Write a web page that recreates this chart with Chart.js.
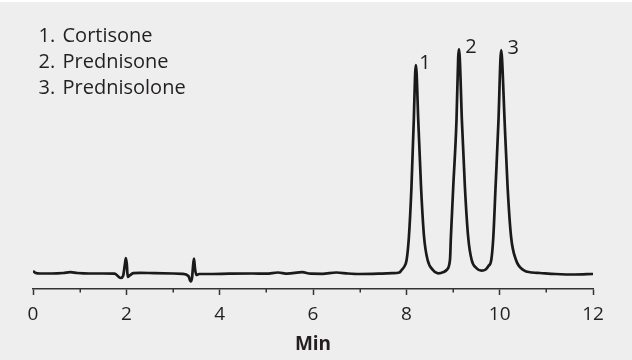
<!DOCTYPE html>
<html>
<head>
<meta charset="utf-8">
<script src="https://cdn.jsdelivr.net/npm/chart.js@4.4.0/dist/chart.umd.min.js"></script>
<style>
  html, body { margin: 0; padding: 0; background: #ffffff; }
  canvas { display: block; }
</style>
</head>
<body>
<canvas id="c" width="632" height="360"></canvas>
<script>
// Retention time (min)
const times = [
  0, 0.06, 0.15, 0.4, 0.65, 0.8, 0.95, 1.2, 1.5, 1.75,
  1.88, 1.93, 1.97, 1.99, 2.01, 2.03, 2.07, 2.15, 2.3, 2.6,
  3.0, 3.2, 3.33, 3.38, 3.41, 3.43, 3.45, 3.47, 3.5, 3.56,
  3.8, 4.2, 4.7, 5.0, 5.25, 5.45, 5.77, 5.95, 6.2, 6.5,
  6.75, 7.0, 7.4, 7.7, 7.85, 7.9, 7.95, 8.006, 8.055, 8.11,
  8.16, 8.19, 8.205, 8.22, 8.255, 8.315, 8.38, 8.456, 8.57, 8.683,
  8.8, 8.863, 8.935, 8.955, 9.005, 9.075, 9.111, 9.128, 9.145, 9.19,
  9.255, 9.325, 9.4, 9.507, 9.614, 9.7, 9.76, 9.82, 9.864, 9.912,
  9.975, 10.017, 10.034, 10.051, 10.105, 10.17, 10.245, 10.35, 10.506, 10.7,
  10.864, 11.2, 11.6, 12.0
];
// Detector signal (arbitrary units)
const signal = [
  3, 1, 0.5, 0.5, 1, 1.8, 1, 0.5, 0.5, 0.3,
  -4, -2, 10, 16, 10, -3, -1.5, 0.8, 1.2, 0.8,
  0.5, 0.2, -2, -7.5, -3, 8, 15.5, 6, -1, 0,
  0, 0.3, 0.5, 0.3, 1.5, 0.3, 1.8, 0.3, 0.2, 1.5,
  0.5, 0, 0.3, 0.8, 1.5, 4, 7, 14, 37, 87,
  154, 201, 209, 201, 154, 87, 37, 14, 4, 0.7,
  2, 4, 14, 37, 87, 154, 216, 225, 216, 154,
  87, 37, 14, 5.7, 3.3, 4.5, 8, 14, 37, 87,
  154, 215, 224, 215, 154, 87, 37, 14, 4, 1.5,
  1, 0, -0.5, 0
];
// Peak annotations
const peakLabels = ['1', '2', '3'];
const peakTimes = [8.205, 9.128, 10.034];
const peakHeights = [209, 225, 224];
// Compound list
const compoundNumbers = ['1.', '2.', '3.'];
const compoundNames = ['Cortisone', 'Prednisone', 'Prednisolone'];
// Axis
const xTickLabels = [0, 2, 4, 6, 8, 10, 12];
const xTitle = 'Min';

const TEXT = '#231f20';
const AXIS = '#333333';

const bgPlugin = {
  id: 'bg',
  beforeDraw(chart) {
    const ctx = chart.ctx;
    ctx.save();
    ctx.fillStyle = '#eeeeee';
    ctx.fillRect(0, 2, chart.width, chart.height - 2);
    ctx.restore();
  }
};

const annotPlugin = {
  id: 'annot',
  afterDraw(chart) {
    const ctx = chart.ctx;
    const xs = chart.scales.x, ys = chart.scales.y;
    ctx.save();
    // minor ticks
    ctx.strokeStyle = AXIS;
    ctx.lineWidth = 1.5;
    const yb = chart.chartArea.bottom;
    for (let v = xs.min; v <= xs.max; v++) {
      if (xTickLabels.includes(v)) continue;
      const px = Math.round(xs.getPixelForValue(v)) + 0.25;
      ctx.beginPath();
      ctx.moveTo(px, yb);
      ctx.lineTo(px, yb + 3.5);
      ctx.stroke();
    }
    // peak labels
    ctx.fillStyle = TEXT;
    ctx.font = '20px "Open Sans"';
    ctx.textAlign = 'center';
    ctx.textBaseline = 'alphabetic';
    const dx = [9, 12, 12];
    for (let i = 0; i < peakLabels.length; i++) {
      const px = xs.getPixelForValue(peakTimes[i]) + dx[i];
      const py = ys.getPixelForValue(peakHeights[i]) + 4;
      ctx.fillText(peakLabels[i], px, py);
    }
    // compound list
    ctx.textAlign = 'left';
    for (let i = 0; i < compoundNames.length; i++) {
      const y = 41.7 + i * 26.3;
      ctx.fillText(compoundNumbers[i], 38.5, y);
      ctx.fillText(compoundNames[i], 62.5, y);
    }
    ctx.restore();
  }
};

new Chart(document.getElementById('c'), {
  type: 'line',
  data: {
    datasets: [{
      data: times.map((t, i) => ({ x: t, y: signal[i] })),
      borderColor: '#1a1a1a',
      borderWidth: 2.7,
      pointRadius: 0,
      fill: false,
      cubicInterpolationMode: 'monotone'
    }]
  },
  options: {
    responsive: false,
    animation: false,
    devicePixelRatio: 1,
    layout: { padding: { left: 33, right: 39, top: 10, bottom: 0 } },
    plugins: { legend: { display: false }, tooltip: { enabled: false } },
    scales: {
      x: {
        type: 'linear',
        min: 0, max: 12,
        ticks: {
          stepSize: 1,
          autoSkip: false,
          maxRotation: 0,
          padding: 8,
          color: TEXT,
          font: { family: 'Open Sans', size: 19 },
          callback: (v) => xTickLabels.includes(v) ? String(v) : ''
        },
        grid: {
          drawOnChartArea: false,
          drawTicks: true,
          tickLength: 6,
          tickWidth: 1.5,
          tickColor: (ctx) => (ctx.tick && xTickLabels.includes(ctx.tick.value)) ? AXIS : 'rgba(0,0,0,0)'
        },
        border: { color: AXIS, width: 1.5 },
        title: {
          display: true,
          text: xTitle,
          color: TEXT,
          font: { family: 'Open Sans', size: 19, weight: 'bold' },
          padding: { top: 4, bottom: 4 }
        },
        afterFit: (s) => { s.height = 71; }
      },
      y: {
        display: false,
        min: -15, max: 264
      }
    }
  },
  plugins: [bgPlugin, annotPlugin]
});
</script>
</body>
</html>
